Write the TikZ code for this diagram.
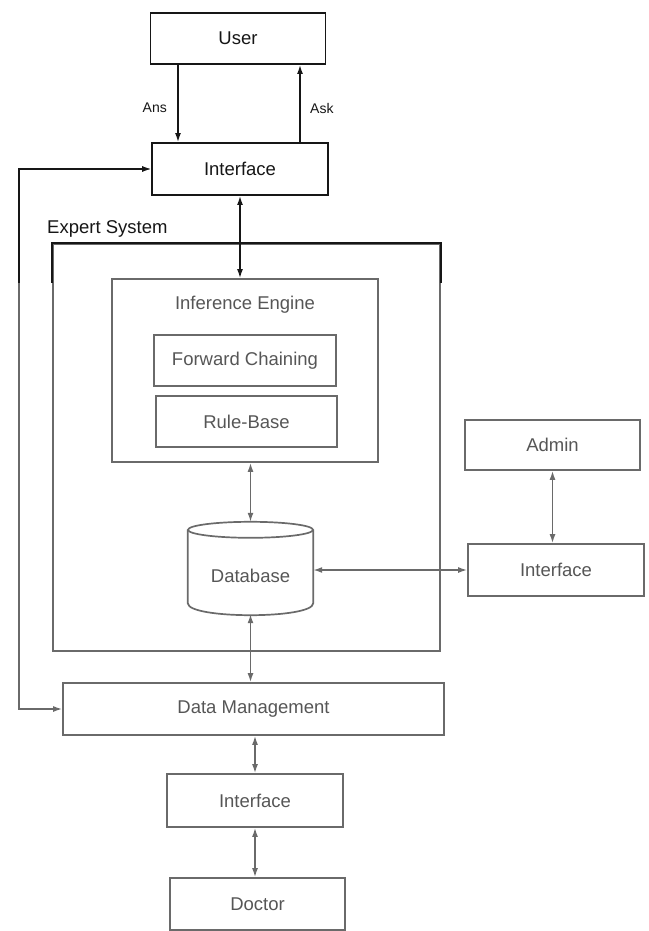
\documentclass[tikz,border=0pt]{standalone}
\usepackage{fontspec}
\setmainfont{Liberation Sans}
\usetikzlibrary{arrows.meta,calc}
\definecolor{ink}{HTML}{161616}
\definecolor{pale}{HTML}{6A6A6A}
\definecolor{paletext}{HTML}{565656}
\newcommand{\lbl}{\fontsize{18.5}{21}\selectfont}
\newcommand{\smalllbl}{\fontsize{14}{16}\selectfont}

\begin{document}
\begin{tikzpicture}[x=1pt,y=-1pt,
  >={Latex[length=9pt,width=6pt]},
  blk/.style={draw=ink,line width=1.9pt,inner sep=0pt,text=ink,font=\lbl},
  gry/.style={draw=pale,line width=1.7pt,inner sep=0pt,text=paletext,font=\lbl},
  kline/.style={draw=ink,line width=1.5pt},
  gline/.style={draw=pale,line width=1.5pt},
  txt/.style={inner sep=0pt,font=\lbl}
]
\useasboundingbox (0,0) rectangle (648,931);

% user side
\node[blk,minimum width=175,minimum height=51] (user) at (238,38.5) {User};
\node[blk,minimum width=176,minimum height=52] (itop) at (240,169) {Interface};
\draw[kline,->] ([xshift=-60pt]user.south) -- ([xshift=-60pt]user.south |- itop.north);
\draw[kline,->] ([xshift=60pt]itop.north) -- ([xshift=60pt]itop.north |- user.south);
\node[inner sep=0pt,font=\smalllbl,text=ink,anchor=east] (ans) at (167,108) {Ans};
\node[inner sep=0pt,font=\smalllbl,text=ink,anchor=west] (ask) at (310,108) {Ask};

% expert system frame
\node[txt,text=ink,anchor=west] (eslbl) at (47,229) {Expert System};
\node[gry,minimum width=387,minimum height=407] (es) at (246.5,447.5) {};

% inference engine
\node[gry,minimum width=266,minimum height=183] (ie) at (245,370.5) {};
\node[txt,text=paletext] (ielbl) at (245,305) {Inference Engine};
\node[gry,minimum width=182,minimum height=51] (fc) at (245,360.5) {Forward Chaining};
\node[gry,minimum width=181,minimum height=51] (rb) at (246.5,421.5) {Rule-Base};

% database cylinder
\node[txt,text=paletext,minimum width=125,minimum height=76] (db) at (250.5,576) {Database};
\coordinate (dbtop) at ([yshift=16pt]db.north);
\draw[gline,line width=1.7pt] ([yshift=8pt]db.north west) -- ([yshift=11pt]db.south west)
  .. controls +(0,16) and +(0,16) .. ([yshift=11pt]db.south east) -- ([yshift=8pt]db.north east);
\draw[gline,line width=1.7pt] ([yshift=8pt]db.north) ellipse [x radius=62.5, y radius=8];

% admin side
\node[gry,minimum width=175,minimum height=50] (admin) at (552.5,445) {Admin};
\node[gry,minimum width=176,minimum height=52] (iright) at (556,570) {Interface};

% data management and doctor side
\node[gry,minimum width=381,minimum height=52] (dm) at (253.5,709) {Data Management};
\node[gry,minimum width=176,minimum height=53] (ibot) at (255,800.5) {Interface};
\node[gry,minimum width=175,minimum height=52] (doc) at (257.5,904) {Doctor};

% connectors
\draw[kline,<->] (itop.south) -- (itop.south |- ie.north);
\draw[gline,<->] (ie.south -| dbtop) -- (dbtop);
\draw[gline,<->] (db.south) -- (db.south |- dm.north);
\draw[gline,<->] (dm.south -| ibot.north) -- (ibot.north);
\draw[gline,<->] (ibot.south) -- (ibot.south |- doc.north);
\draw[gline,<->] (admin.south) -- (admin.south |- iright.north);
\draw[gline,<->] (iright.west) -- (iright.west -| db.east);
\draw[gline,<->] (itop.west) -- ++(-132,0) |- (dm.west);

% the upper part of the frame and the feedback line are printed darker
\begin{scope}
  \clip (0,0) rectangle (648,282);
  \draw[draw=ink,line width=1.9pt] (es.south west) rectangle (es.north east);
  \draw[kline,<->] (itop.west) -- ++(-132,0) |- (dm.west);
\end{scope}
\end{tikzpicture}
\end{document}
